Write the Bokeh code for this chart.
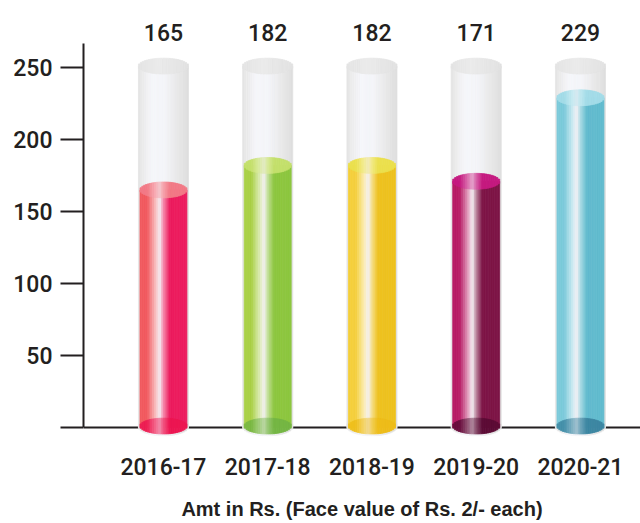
import numpy as np
from bokeh.plotting import figure
from bokeh.models import Range1d, FixedTicker, Span, ColumnDataSource
from bokeh.embed import file_html
from bokeh.resources import INLINE
from bokeh.core.properties import value

# ---------------- data ----------------
categories = ["2016-17", "2017-18", "2018-19", "2019-20", "2020-21"]
amounts = [165, 182, 182, 171, 229]
y_ticks = [0, 50, 100, 150, 200, 250]
axis_title = "Amt in Rs. (Face value of Rs. 2/- each)"

# colours of each tube (light side, dark side, top surface, bottom surface)
side_light = ["#f15a5f", "#a9d046", "#f5cf3c", "#b81d66", "#7ccadb"]
side_dark = ["#ec1c5e", "#8dc63f", "#eec21f", "#7d1446", "#62bbce"]
cap_light = ["#f27a86", "#c4e06c", "#ebe04e", "#c51b80", "#a3dce8"]
base_dark = ["#ec1652", "#75b644", "#eebd1a", "#5d0c36", "#3d87a2"]

# ---------------- style constants ----------------
TEXT = "#231f20"
FONT = "'Roboto Medium', Roboto"
TUBE_TOP = 251        # glass tube top (data units)
GLASS_W = 0.48        # glass width (x data units)
FILL_W = 0.45         # liquid width
ELL_H = 11            # ellipse height (y data units)
BASE_Y = 1.0          # centre of bottom ellipse
LABEL_Y = 274.5
N = 26                # gradient strips

def hex2rgb(h):
    h = h.lstrip("#")
    return np.array([int(h[i:i + 2], 16) for i in (0, 2, 4)], dtype=float)

def rgb2hex(c):
    c = np.clip(np.round(c), 0, 255).astype(int)
    return "#%02x%02x%02x" % tuple(c)

def mix(a, b, f):
    return rgb2hex(hex2rgb(a) * (1 - f) + hex2rgb(b) * f)

def interp(stops, t):
    for (t0, c0), (t1, c1) in zip(stops[:-1], stops[1:]):
        if t0 <= t <= t1:
            f = 0 if t1 == t0 else (t - t0) / (t1 - t0)
            return mix(c0, c1, f)
    return stops[-1][1]

def liquid_stops(L, R):
    return [(0.0, L), (0.16, L), (0.34, mix(L, "#ffffff", 0.6)), (0.43, "#f4f0f5"),
            (0.5, mix(R, "#ffffff", 0.5)), (0.64, R), (1.0, R)]

glass_stops = [(0.0, "#e2e2e2"), (0.1, "#ececec"), (0.28, "#f5f6fa"), (0.52, "#f4f5f9"),
               (0.78, "#e9e9e9"), (1.0, "#dedede")]
glass_cap_stops = [(0.0, "#e4e4e4"), (0.4, "#ebebeb"), (0.6, "#e8e8e8"), (1.0, "#e2e2e2")]

def strips(xc, w, stops, y0=None, y1=None, yc=None, h=None):
    L, R, B, T, C = [], [], [], [], []
    for k in range(N):
        t = (k + 0.5) / N
        l = xc - w / 2 + k * w / N
        r = l + w / N
        L.append(l); R.append(r)
        if yc is None:
            B.append(y0); T.append(y1)
        else:
            u = (t - 0.5) * 2
            hh = (h / 2) * np.sqrt(max(0.0, 1 - u * u))
            B.append(yc - hh); T.append(yc + hh)
        C.append(interp(stops, t))
    return dict(left=L, right=R, bottom=B, top=T, color=C)

def merge(dicts):
    out = {k: [] for k in dicts[0]}
    for d in dicts:
        for k in d:
            out[k].extend(d[k])
    return out

xs = list(range(len(categories)))

glass_body, glass_base, liq_body, liq_base, liq_cap, glass_cap = [], [], [], [], [], []
for i, (x, v) in enumerate(zip(xs, amounts)):
    glass_body.append(strips(x, GLASS_W, glass_stops, 0, TUBE_TOP))
    glass_base.append(strips(x, GLASS_W, glass_stops, yc=BASE_Y - 0.3, h=ELL_H + 2))
    ls = liquid_stops(side_light[i], side_dark[i])
    liq_body.append(strips(x, FILL_W, ls, 0, v))
    bs = liquid_stops(mix(base_dark[i], side_light[i], 0.25), base_dark[i])
    bs = [(t, mix(c, base_dark[i], 0.45)) for t, c in bs]
    liq_base.append(strips(x, FILL_W, bs, yc=BASE_Y, h=ELL_H))
    cs = liquid_stops(cap_light[i], cap_light[i])
    cs = [(t, mix(c, cap_light[i], 0.35)) for t, c in cs]
    liq_cap.append(strips(x, FILL_W, cs, yc=v, h=ELL_H))
    glass_cap.append(strips(x, GLASS_W, glass_cap_stops, yc=TUBE_TOP, h=ELL_H))

p = figure(width=640, height=523,
           x_range=Range1d(-0.767, 4.576), y_range=Range1d(-6.25, 290.3),
           output_backend="svg", toolbar_location=None,
           min_border_left=83, min_border_right=0, min_border_top=9, min_border_bottom=87)
p.outline_line_color = None
p.grid.visible = False
p.background_fill_color = "white"

p.add_layout(Span(location=0, dimension="width", line_color=TEXT, line_width=2, level="underlay"))

for group in (glass_body, glass_base, liq_body, liq_base, liq_cap, glass_cap):
    src = ColumnDataSource(merge(group))
    p.quad(left="left", right="right", bottom="bottom", top="top", source=src,
           fill_color="color", line_color="color", line_width=0.8)

# value labels
p.text(x=xs, y=[LABEL_Y] * len(xs), text=[str(a) for a in amounts],
       text_align="center", text_baseline="middle", text_color=TEXT,
       text_font=value(FONT), text_font_size="23px")

# y axis
ya = p.yaxis[0]
ya.ticker = FixedTicker(ticks=y_ticks)
ya.major_label_overrides = {0: ""}
ya.bounds = (0, 266.7)
ya.axis_line_color = TEXT
ya.axis_line_width = 2
ya.major_tick_line_color = TEXT
ya.major_tick_line_width = 2
ya.major_tick_out = 23
ya.major_tick_in = 0
ya.minor_tick_line_color = None
ya.major_label_standoff = 8
ya.major_label_text_font = FONT
ya.major_label_text_font_size = "23px"
ya.major_label_text_color = TEXT

# x axis
xa = p.xaxis[0]
xa.ticker = FixedTicker(ticks=xs)
xa.major_label_overrides = {x: c for x, c in zip(xs, categories)}
xa.axis_line_color = None
xa.major_tick_line_color = None
xa.minor_tick_line_color = None
xa.major_label_standoff = 15
xa.major_label_text_font = FONT
xa.major_label_text_font_size = "23px"
xa.major_label_text_color = TEXT
xa.axis_label = axis_title
xa.axis_label_text_font = "Liberation Sans"
xa.axis_label_text_font_style = "bold"
xa.axis_label_text_font_size = "20px"
xa.axis_label_text_color = TEXT
xa.axis_label_standoff = 20

open("out.html", "w").write(file_html(p, INLINE))
